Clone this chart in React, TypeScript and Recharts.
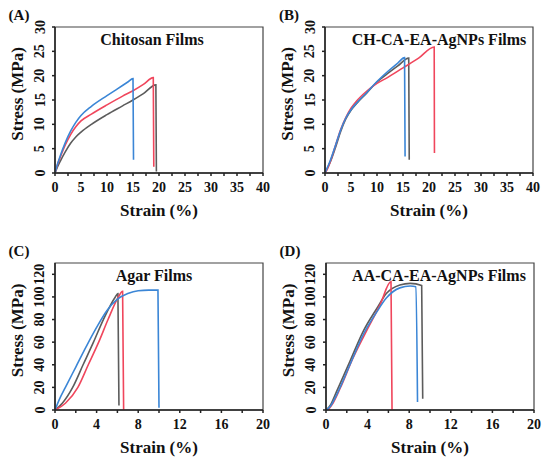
import React from "react";
import { LineChart, Line, XAxis, YAxis, ReferenceArea, Label } from "recharts";

const FONT = "'Liberation Serif', 'Times New Roman', serif";
const GREY = "#5c5c5c";
const RED = "#f0465c";
const BLUE = "#3b86d6";

type Pt = [number, number];

// tick values
const xTicksAB = [0, 2.5, 5, 7.5, 10, 12.5, 15, 17.5, 20, 22.5, 25, 27.5, 30, 32.5, 35, 37.5, 40];
const xLabelsAB = [0, 5, 10, 15, 20, 25, 30, 35, 40];
const yTicksAB = [0, 5, 10, 15, 20, 25, 30];
const xTicksCD = [0, 2, 4, 6, 8, 10, 12, 14, 16, 18, 20];
const xLabelsCD = [0, 4, 8, 12, 16, 20];
const yTicksCD = [0, 20, 40, 60, 80, 100, 120];

// (A) Chitosan films: strain (%), stress (MPa)
const chitosanGrey: Pt[] = [[0, 0], [0.5, 1.3], [1, 2.4], [2, 4.4], [3, 6.1], [4, 7.4], [5, 8.4], [7, 10], [10, 12], [13, 13.8], [15, 15], [17, 16.3], [19.4, 18.1], [19.5, 0.3]];
const chitosanRed: Pt[] = [[0, 0], [0.5, 1.8], [1, 3.2], [2, 5.8], [3, 7.9], [4, 9.5], [5, 10.7], [7, 12.1], [10, 14], [13, 15.8], [15, 16.9], [17, 18.2], [18.9, 19.6], [19, 1.3]];
const chitosanBlue: Pt[] = [[0, 0], [0.5, 1.9], [1, 3.5], [2, 6.3], [3, 8.6], [4, 10.4], [5, 11.8], [7, 13.7], [10, 15.9], [12, 17.3], [14, 18.7], [15, 19.4], [15.1, 2.7]];

// (B) CH-CA-EA-AgNPs films
const chGrey: Pt[] = [[0, 0], [1, 2.2], [2, 5.2], [3, 8.5], [4, 11.1], [5, 12.9], [6, 14.2], [8, 16.4], [10, 18.7], [12, 20.4], [14, 22], [16.1, 23.6], [16.2, 2.7]];
const chRed: Pt[] = [[0, 0], [0.3, 0.5], [1, 2.3], [2, 5.6], [3, 8.9], [4, 11.4], [5, 13.3], [6, 14.7], [8, 16.8], [10, 18.4], [12, 19.6], [15, 21.6], [18, 23.6], [21, 25.9], [21.05, 4.1]];
const chBlue: Pt[] = [[0, 0], [1, 2.5], [2, 5.6], [3, 8.8], [4, 11.3], [5, 13], [6, 14.3], [8, 16.5], [10, 18.8], [12, 20.8], [14, 22.6], [15.3, 23.7], [15.4, 3.4]];

// (C) Agar films
const agarGrey: Pt[] = [[0, 0], [0.7, 6], [1.7, 20], [2.7, 40], [3.7, 60], [4.65, 80], [5.8, 100], [6.05, 103], [6.15, 4]];
const agarRed: Pt[] = [[0, 0], [1, 6], [2.2, 20], [3.2, 40], [4.2, 60], [5.1, 80], [6.1, 100], [6.5, 105], [6.6, 0]];
const agarBlue: Pt[] = [[0, 0], [0.4, 9], [1, 20], [2, 38], [3, 56], [4, 73], [5, 88], [6, 98], [7, 103], [8, 105.5], [9, 106], [9.9, 106], [10, 2]];

// (D) AA-CA-EA-AgNPs films
const aaGrey: Pt[] = [[0, 0], [0.4, 4], [1, 16], [2.3, 43], [3.6, 70], [4.9, 90], [5.8, 103], [7.1, 110.5], [8.1, 112], [9.2, 110], [9.3, 10]];
const aaRed: Pt[] = [[0.2, 0], [0.6, 5], [1.35, 19], [2.6, 46], [3.9, 70], [5.2, 93], [6.25, 113.5], [6.35, 0]];
const aaBlue: Pt[] = [[0, 0], [0.4, 3], [1, 13], [2.3, 40], [3.6, 67], [4.9, 87], [5.8, 99], [7.1, 108], [8.1, 109.6], [8.65, 109], [8.8, 7]];

const toRows = (pts: Pt[]) => pts.map(([x, y]) => ({ x, y }));

const YTick = (props: any) => {
  const { x, y, payload } = props;
  const cx = x - 10;
  return (
    <text x={cx} y={y} transform={`rotate(-90, ${cx}, ${y})`} textAnchor="middle" dominantBaseline="central"
      fontFamily={FONT} fontWeight="bold" fontSize={14} fill="#111">
      {payload.value}
    </text>
  );
};

const makeXTick = (labels: number[]) => (props: any) => {
  const { x, y, payload } = props;
  if (!labels.includes(payload.value)) return <g />;
  return (
    <text x={x} y={y + 9} textAnchor="middle" dominantBaseline="central"
      fontFamily={FONT} fontWeight="bold" fontSize={14} fill="#111">
      {payload.value}
    </text>
  );
};

type PanelProps = {
  left: number;
  top: number;
  margin: { top: number; right: number; bottom: number; left: number };
  tag: string;
  title: string;
  titleDx: number;
  xMax: number;
  yMax: number;
  xTicks: number[];
  xLabels: number[];
  yTicks: number[];
  grey: Pt[];
  red: Pt[];
  blue: Pt[];
};

function Panel(p: PanelProps) {
  const XTick = makeXTick(p.xLabels);
  return (
    <div style={{ position: "absolute", left: p.left, top: p.top }}>
      <LineChart width={275} height={231} margin={p.margin}>
        <XAxis type="number" dataKey="x" domain={[0, p.xMax]} ticks={p.xTicks} interval={0}
          allowDataOverflow stroke="#222" strokeWidth={1.5} tickSize={3} tick={<XTick />} height={30}>
          <Label content={(lp: any) => {
            const vb = lp.viewBox;
            return (
              <text x={vb.x + vb.width / 2} y={vb.y + 37} textAnchor="middle" dominantBaseline="central"
                fontFamily={FONT} fontWeight="bold" fontSize={17} fill="#111">Strain (%)</text>
            );
          }} />
        </XAxis>
        <YAxis type="number" dataKey="y" domain={[0, p.yMax]} ticks={p.yTicks} interval={0}
          allowDataOverflow stroke="#222" strokeWidth={1.5} tickSize={3} tick={<YTick />} width={30}>
          <Label content={(lp: any) => {
            const vb = lp.viewBox;
            const cx = vb.x - 8;
            const cy = vb.y + vb.height / 2 - 6;
            return (
              <text x={cx} y={cy} transform={`rotate(-90, ${cx}, ${cy})`} textAnchor="middle" dominantBaseline="central"
                fontFamily={FONT} fontWeight="bold" fontSize={17} fill="#111">Stress (MPa)</text>
            );
          }} />
        </YAxis>
        <ReferenceArea x1={0} x2={p.xMax} y1={0} y2={p.yMax} fill="none" stroke="#444" strokeWidth={1.2}
          label={(lp: any) => {
            const vb = lp.viewBox;
            return (
              <g fontFamily={FONT} fontWeight="bold" fill="#111">
                <text x={vb.x + vb.width / 2 + p.titleDx} y={vb.y + 12} textAnchor="middle" dominantBaseline="central" fontSize={16}>{p.title}</text>
                <text x={vb.x - 36} y={vb.y - 12} textAnchor="middle" dominantBaseline="central" fontSize={15}>{p.tag}</text>
              </g>
            );
          }} />
        <Line data={toRows(p.grey)} dataKey="y" type="monotone" stroke={GREY} strokeWidth={1.6} dot={false} isAnimationActive={false} />
        <Line data={toRows(p.red)} dataKey="y" type="monotone" stroke={RED} strokeWidth={1.6} dot={false} isAnimationActive={false} />
        <Line data={toRows(p.blue)} dataKey="y" type="monotone" stroke={BLUE} strokeWidth={1.6} dot={false} isAnimationActive={false} />
      </LineChart>
    </div>
  );
}

export default function App() {
  return (
    <div style={{ position: "absolute", left: 0, top: 0, width: 550, height: 462, background: "#fff", overflow: "hidden" }}>
      <Panel left={0} top={0} margin={{ top: 27, right: 12, bottom: 28, left: 25 }} tag="(A)" title="Chitosan Films" titleDx={-7}
        xMax={40} yMax={30} xTicks={xTicksAB} xLabels={xLabelsAB} yTicks={yTicksAB}
        grey={chitosanGrey} red={chitosanRed} blue={chitosanBlue} />
      <Panel left={275} top={0} margin={{ top: 27, right: 17, bottom: 28, left: 20 }} tag="(B)" title="CH-CA-EA-AgNPs Films" titleDx={10}
        xMax={40} yMax={30} xTicks={xTicksAB} xLabels={xLabelsAB} yTicks={yTicksAB}
        grey={chGrey} red={chRed} blue={chBlue} />
      <Panel left={0} top={231} margin={{ top: 32, right: 12, bottom: 22, left: 25 }} tag="(C)" title="Agar Films" titleDx={-5}
        xMax={20} yMax={130} xTicks={xTicksCD} xLabels={xLabelsCD} yTicks={yTicksCD}
        grey={agarGrey} red={agarRed} blue={agarBlue} />
      <Panel left={275} top={231} margin={{ top: 32, right: 16, bottom: 22, left: 21 }} tag="(D)" title="AA-CA-EA-AgNPs Films" titleDx={9}
        xMax={20} yMax={130} xTicks={xTicksCD} xLabels={xLabelsCD} yTicks={yTicksCD}
        grey={aaGrey} red={aaRed} blue={aaBlue} />
    </div>
  );
}
